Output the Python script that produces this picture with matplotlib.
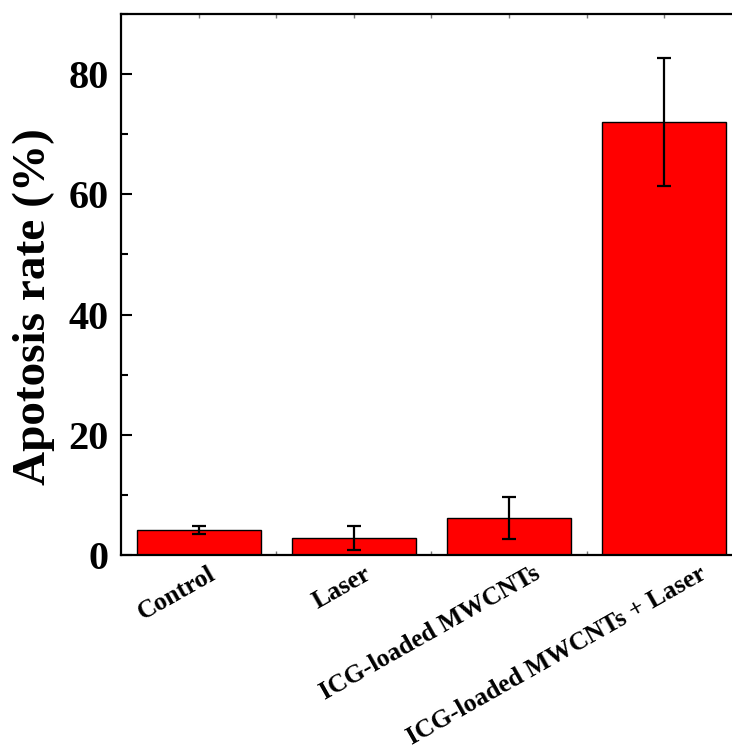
import matplotlib
matplotlib.use("Agg")
import matplotlib.pyplot as plt
import matplotlib.transforms as mtransforms
from matplotlib.ticker import MultipleLocator, FixedLocator

# Dados
grupos = ["Control", "Laser", "ICG-loaded MWCNTs", "ICG-loaded MWCNTs + Laser"]
apoptose = [4.2, 2.9, 6.1, 72.0]
erros = [0.7, 2.0, 3.5, 10.6]

plt.rcParams["font.family"] = ["Liberation Serif", "DejaVu Serif"]
plt.rcParams["font.weight"] = "bold"

fig = plt.figure(figsize=(7.32, 7.46), dpi=100)
ax = fig.add_axes([121 / 732, 191 / 746, 621 / 732, 541 / 746])

x = list(range(len(grupos)))
ax.bar(x, apoptose, width=0.8, color="#ff0000", edgecolor="black", linewidth=1.0, zorder=2)
ax.errorbar(x, apoptose, yerr=erros, fmt="none", ecolor="black", elinewidth=1.6,
            capsize=4.7, capthick=1.6, zorder=3)

ax.set_xlim(-0.5, len(grupos) - 0.5)
ax.set_ylim(0, 90)

# Eixo y
ax.set_yticks([0, 20, 40, 60, 80])
ax.yaxis.set_minor_locator(MultipleLocator(10))
ax.tick_params(axis="y", which="major", direction="in", length=8, width=1.5,
               labelsize=29, pad=9)
ax.tick_params(axis="y", which="minor", direction="in", length=4.8, width=1.5)
ax.tick_params(axis="y", right=False, which="both")

# Eixo x
ax.set_xticks(x)
ax.xaxis.set_minor_locator(FixedLocator([i + 0.5 for i in x[:-1]]))
ax.tick_params(axis="x", which="both", direction="in", length=3, width=1,
               top=True, color="#777777", pad=5)
ax.set_xticklabels(grupos, rotation=29.5, ha="right", rotation_mode="anchor",
                   fontsize=18.5, fontweight="bold")
# deslocamento horizontal de cada rótulo (pt), como no original
desloc = [7, 7, 17, 25]
for lbl, d in zip(ax.get_xticklabels(), desloc):
    lbl.set_transform(lbl.get_transform()
                      + mtransforms.ScaledTranslation(d / 72, 0, fig.dpi_scale_trans))

for lbl in ax.get_yticklabels():
    lbl.set_fontweight("bold")

ax.set_ylabel("Apotosis rate (%)", fontsize=34, fontweight="bold")
ax.yaxis.set_label_coords(-0.106, 0.46)

for s in ax.spines.values():
    s.set_linewidth(1.6)

fig.savefig("out.png", dpi=100)
